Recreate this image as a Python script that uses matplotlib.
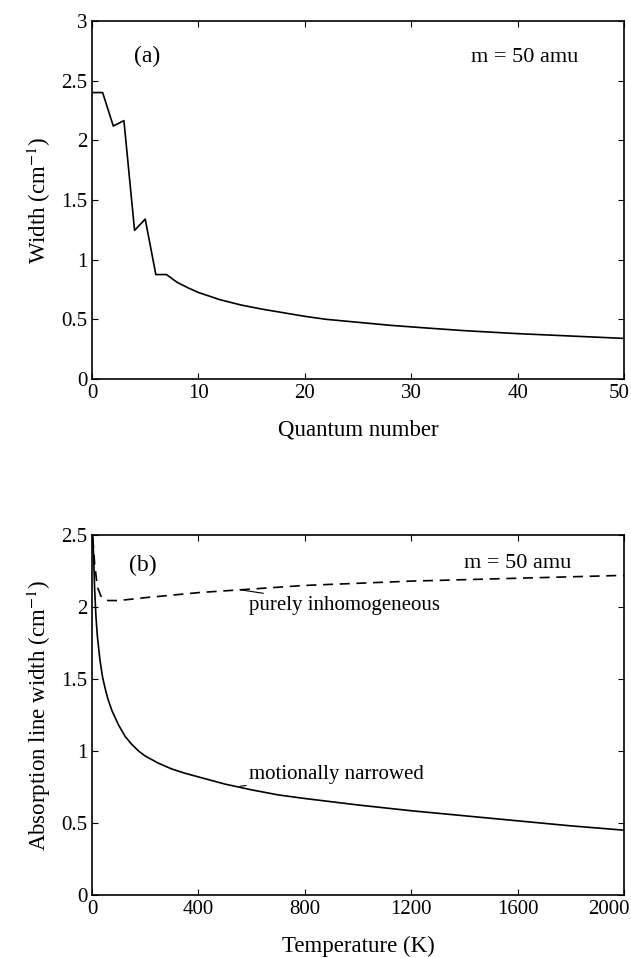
import numpy as np
import matplotlib
matplotlib.use("Agg")
import matplotlib.pyplot as plt

plt.rcParams['font.family'] = ['Liberation Serif', 'DejaVu Serif']
plt.rcParams['mathtext.fontset'] = 'stix'

# panel (a): width vs quantum number
n_vals = [0, 1, 2, 3, 4, 5, 6, 7, 8, 9, 10, 12, 14, 16, 18, 20, 22, 25, 28, 31, 35, 40, 45, 50]
width_a = [2.40, 2.40, 2.12, 2.165, 1.245, 1.34, 0.875, 0.875, 0.81, 0.765, 0.725,
           0.665, 0.62, 0.585, 0.555, 0.525, 0.50, 0.475, 0.45, 0.43, 0.405, 0.38, 0.36, 0.34]

# panel (b): absorption line width vs temperature
t_narrow = [3, 6, 10, 15, 20, 30, 40, 50, 60, 75, 100, 125, 150, 175, 200, 250, 300,
            350, 400, 450, 500, 600, 700, 800, 1000, 1200, 1400, 1600, 1800, 2000]
w_narrow = [2.49, 2.35, 2.12, 1.93, 1.80, 1.63, 1.51, 1.43, 1.36, 1.28, 1.18, 1.10,
            1.045, 1.0, 0.965, 0.915, 0.875, 0.845, 0.82, 0.795, 0.77, 0.73, 0.695,
            0.67, 0.625, 0.585, 0.55, 0.515, 0.48, 0.45]

t_inhom = [3, 10, 20, 35, 60, 100, 200, 400, 600, 800, 1000, 1200, 1400, 1600, 1800, 2000]
w_inhom = [2.48, 2.30, 2.14, 2.07, 2.045, 2.045, 2.065, 2.10, 2.125, 2.15, 2.165,
           2.18, 2.19, 2.20, 2.21, 2.22]

fig = plt.figure(figsize=(6.31, 9.58), dpi=100)
ax1 = fig.add_axes([0.1458, 0.6044, 0.8432, 0.3737])
ax2 = fig.add_axes([0.1458, 0.0658, 0.8432, 0.3757])

for ax in (ax1, ax2):
    ax.tick_params(direction='in', top=True, right=True, labelsize=15, length=4, width=0.8)
    for s in ax.spines.values():
        s.set_linewidth(1.2)

ax1.plot(n_vals, width_a, color='black', lw=1.2)
ax1.set_xlim(0, 50)
ax1.set_ylim(0, 3)
ax1.set_xticks([0, 10, 20, 30, 40, 50])
ax1.set_xticklabels(['0', '10', '20', '30', '40', ''])
ax1.set_yticks([0, 0.5, 1, 1.5, 2, 2.5, 3])
ax1.set_yticklabels(['0', '0.5', '1', '1.5', '2', '2.5', '3'])
ax1.set_xlabel('Quantum number', fontsize=16.5, labelpad=12)
ax1.set_ylabel('Width (cm$^{-1}$)', fontsize=16.5, labelpad=6)
ax1.text(5.2, 2.7, '(a)', fontsize=17, ha='center', va='center')
ax1.text(40.7, 2.69, 'm = 50 amu', fontsize=16, ha='center', va='center')

ax2.plot(t_narrow, w_narrow, color='black', lw=1.2)
ax2.plot(t_inhom, w_inhom, color='black', lw=1.2, ls=(0, (6, 4)))
ax2.set_xlim(0, 2000)
ax2.set_ylim(0, 2.5)
ax2.set_xticks([0, 400, 800, 1200, 1600, 2000])
ax2.set_xticklabels(['0', '400', '800', '1200', '1600', ''])
ax2.set_yticks([0, 0.5, 1, 1.5, 2, 2.5])
ax2.set_yticklabels(['0', '0.5', '1', '1.5', '2', '2.5'])
ax2.set_xlabel('Temperature (K)', fontsize=16.5, labelpad=12)
ax2.set_ylabel('Absorption line width (cm$^{-1}$)', fontsize=16.5, labelpad=6)
ax2.text(190, 2.29, '(b)', fontsize=17, ha='center', va='center')
ax2.text(1600, 2.30, 'm = 50 amu', fontsize=16, ha='center', va='center')
ax2.annotate('purely inhomogeneous', xy=(556, 2.12), xytext=(590, 2.01),
             fontsize=15, va='center', ha='left',
             arrowprops=dict(arrowstyle='-', color='black', lw=0.8, shrinkA=0, shrinkB=0))
ax2.annotate('motionally narrowed', xy=(556, 0.755), xytext=(590, 0.84),
             fontsize=15, va='center', ha='left',
             arrowprops=dict(arrowstyle='-', color='black', lw=0.8, shrinkA=0, shrinkB=0))

# last x tick labels sit at the right edge of the figure
for ax, lab in ((ax1, '50'), (ax2, '2000')):
    ax.annotate(lab, xy=(1, 0), xycoords='axes fraction', xytext=(630, -3.5),
                textcoords=('figure pixels', 'offset points'), fontsize=15,
                ha='right', va='top')

fig.savefig('out.png', dpi=100)
